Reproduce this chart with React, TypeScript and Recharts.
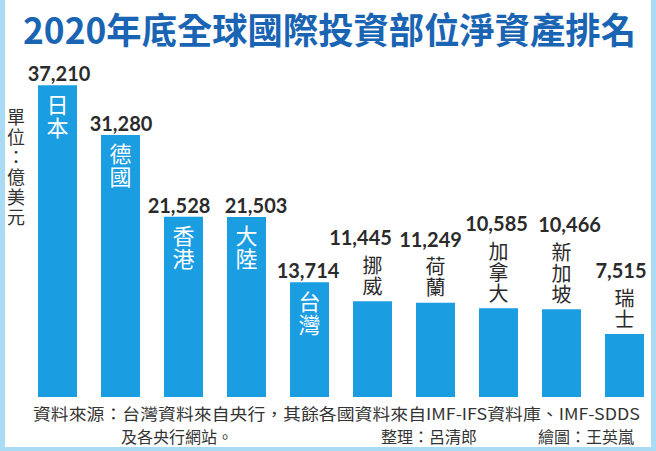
import React from "react";
import { BarChart, Bar, XAxis, YAxis, LabelList } from "recharts";

const countries = ["日本", "德國", "香港", "大陸", "台灣", "挪威", "荷蘭", "加拿大", "新加坡", "瑞士"];
const values = [37210, 31280, 21528, 21503, 13714, 11445, 11249, 10585, 10466, 7515];
const insideCount = 5;
// horizontal nudges of the value labels, as in the original layout
const labelNudge = [1.5, 0.5, -4.5, 9.5, -1.5, -12, -5, -2, 8, -3.5];

const TITLE = "2020年底全球國際投資部位淨資產排名";
const UNIT = "單位：億美元";
const SOURCE_1 = "資料來源：台灣資料來自央行，其餘各國資料來自IMF-IFS資料庫、IMF-SDDS";
const SOURCE_2 = "及各央行網站。";
const EDITOR = "整理：呂清郎";
const DRAWER = "繪圖：王英嵐";

const data = countries.map((name, i) => ({ name, value: values[i] }));

const CJK = '"Noto Sans CJK TC", "Noto Sans", sans-serif';
const NUM = 'Lato, "Liberation Sans", sans-serif';
const BAR_COLOR = "#1b9de2";
const FRAME = "#a9dcf4";

const VERTICAL: React.CSSProperties = { writingMode: "vertical-rl" as any };

function fmt(v: number): string {
  return v.toLocaleString("en-US");
}

function BarLabel(props: any) {
  const { x, y, width, index } = props;
  const cx = x + width / 2;
  const name = countries[index];
  const n = Array.from(name).length;
  const value = values[index];
  const vx = cx + labelNudge[index];

  if (index < insideCount) {
    return (
      <g>
        <text x={vx} y={y - 4} textAnchor="middle" fontFamily={NUM} fontWeight="bold" fontSize={20} fill="#2b2b2b">
          {fmt(value)}
        </text>
        <text x={cx} y={y + 8} style={VERTICAL} fontFamily={CJK} fontSize={22} letterSpacing={1} fill="#ffffff">
          {name}
        </text>
      </g>
    );
  }

  const fs = 20;
  const step = 21;
  const top = y - 5 - (n * step - 1);
  return (
    <g>
      <text x={vx} y={top - 10} textAnchor="middle" fontFamily={NUM} fontWeight="bold" fontSize={20} fill="#2b2b2b">
        {fmt(value)}
      </text>
      <text x={cx} y={top} style={VERTICAL} fontFamily={CJK} fontSize={fs} letterSpacing={step - fs} fill="#2a2a2a">
        {name}
      </text>
    </g>
  );
}

export default function App() {
  return (
    <div style={{ position: "relative", width: 656, height: 451, background: "#ffffff" }}>
      <style>{"body{margin:0}"}</style>
      <BarChart
        width={656}
        height={451}
        data={data}
        margin={{ top: 62, right: 0, left: 26, bottom: 54 }}
        barCategoryGap={0}
      >
        <XAxis dataKey="name" hide />
        <YAxis hide domain={[0, 40000]} />
        <Bar dataKey="value" fill={BAR_COLOR} barSize={39} isAnimationActive={false}>
          <LabelList dataKey="value" content={<BarLabel />} />
        </Bar>
      </BarChart>
      <svg width={656} height={451} style={{ position: "absolute", left: 0, top: 0, pointerEvents: "none" }}>
        <text
          x={23}
          y={44}
          fontFamily={CJK}
          fontWeight="bold"
          fontSize={36}
          fill="#1a64b4"
          textLength={613}
          lengthAdjust="spacingAndGlyphs"
        >
          {TITLE}
        </text>
        <text x={16} y={108} style={VERTICAL} fontFamily={CJK} fontSize={18} letterSpacing={2} fill="#333333">
          {UNIT}
        </text>
        <text
          x={33}
          y={420}
          fontFamily={CJK}
          fontSize={16}
          fill="#333333"
          textLength={607}
          lengthAdjust="spacingAndGlyphs"
        >
          {SOURCE_1}
        </text>
        <text x={121} y={443} fontFamily={CJK} fontSize={16} fill="#333333">
          {SOURCE_2}
        </text>
        <text x={381} y={443} fontFamily={CJK} fontSize={16} fill="#333333">
          {EDITOR}
        </text>
        <text x={538} y={443} fontFamily={CJK} fontSize={16} fill="#333333">
          {DRAWER}
        </text>
        <rect x={0} y={0} width={5} height={451} fill={FRAME} />
        <rect x={651} y={0} width={5} height={451} fill={FRAME} />
        <rect x={0} y={447} width={656} height={4} fill={FRAME} />
      </svg>
    </div>
  );
}
